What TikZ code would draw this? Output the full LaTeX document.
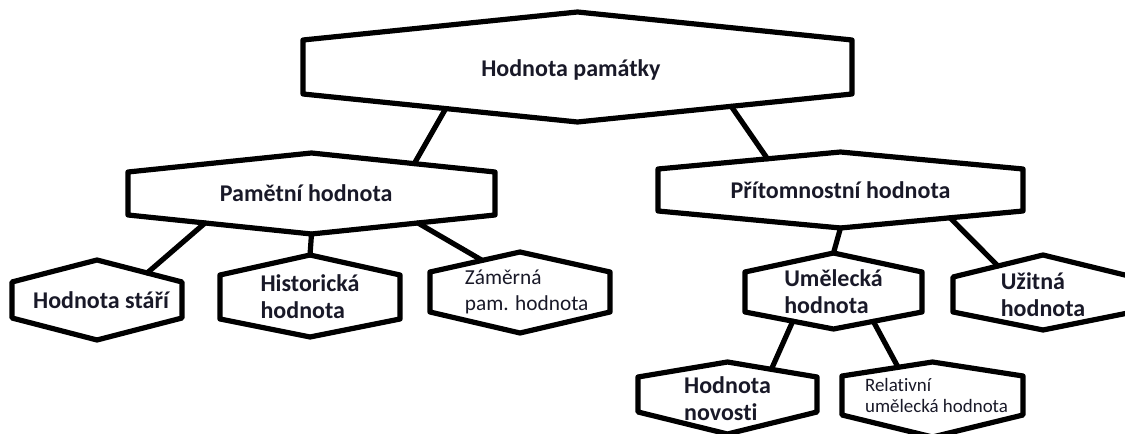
\documentclass[tikz,border=0pt]{standalone}
\usepackage{fontspec}
\setmainfont[Ligatures={NoCommon}]{Carlito}
\usetikzlibrary{calc}
\definecolor{ink}{RGB}{25,25,40}
\begin{document}
\begin{tikzpicture}[x=0.75pt,y=-0.75pt,line join=round,line cap=round,
	boxline/.style={line width=3.9pt,fill=white},
	boxtext/.style={inner sep=0pt,align=left,text=ink,font=\bfseries\fontsize{18}{20.3}\selectfont},
	zamtext/.style={font=\fontsize{16}{19.5}\selectfont},
	reltext/.style={font=\fontsize{14.2}{15.8}\selectfont},
	link/.style={line width=3.9pt}]
	% Definice tvaru: styl, jméno, střed, půlšířka, půlstrana, horní a dolní hrot, text
	\def\hexbox#1#2#3#4#5#6#7#8{
		\path (#3) ++(-#4,-#5) coordinate (#2-nw)
			(#3) ++(0,-#5-#6) coordinate (#2-n)
			(#3) ++(#4,-#5) coordinate (#2-ne)
			(#3) ++(#4,#5) coordinate (#2-se)
			(#3) ++(0,#5+#7) coordinate (#2-s)
			(#3) ++(-#4,#5) coordinate (#2-sw);
		\draw [boxline] (#2-nw)--(#2-n)--(#2-ne)--(#2-se)--(#2-s)--(#2-sw)--cycle;
		\node [boxtext,#1] (#2) at (#3) {#8};
	}
	\useasboundingbox (0,0) rectangle (1125,434);
	\clip (0,0) rectangle (1125,434);
	\hexbox{xshift=-5pt,yshift=-2pt}{top}{577.5,67}{274.5}{27}{28}{28}{Hodnota památky}
	\hexbox{xshift=-4pt}{pam}{311.5,193.5}{183.5}{21.5}{19}{19}{Pamětní hodnota}
	\hexbox{}{prit}{840.5,190}{182.5}{21}{17}{17}{Přítomnostní hodnota}
	\hexbox{xshift=3pt}{stari}{97,300}{85}{18}{22}{22}{Hodnota stáří}
	\hexbox{}{hist}{310,297}{90}{22}{20}{18}{Historická\\hodnota}
	\hexbox{zamtext,xshift=5pt}{zam}{520,292}{90}{20}{20}{21}{Záměrná\\pam. hodnota}
	\hexbox{}{umel}{833.5,292}{88.5}{20}{19}{17}{Umělecká\\hodnota}
	\hexbox{}{uzit}{1043,294.5}{90}{17.5}{22}{18}{Užitná\\hodnota}
	\hexbox{yshift=-3pt}{nov}{727.5,394.5}{89.5}{17.5}{15}{22}{Hodnota\\novosti}
	\hexbox{reltext,xshift=3pt}{rel}{932.5,395.5}{90.5}{19.5}{14}{22}{Relativní\\umělecká hodnota}
	% Spojnice
	\draw [link] ($(top-s)!0.48!(top-sw)$)--($(pam-n)!0.56!(pam-ne)$);
	\draw [link] ($(top-s)!0.56!(top-se)$)--($(prit-n)!0.4!(prit-nw)$);
	\draw [link] ($(pam-s)!0.58!(pam-sw)$)--($(stari-n)!0.59!(stari-ne)$);
	\draw [link] (pam-s)--(hist-n);
	\draw [link] ($(pam-s)!0.58!(pam-se)$)--($(zam-n)!0.42!(zam-nw)$);
	\draw [link] (prit-s)--(umel-n);
	\draw [link] ($(prit-s)!0.6!(prit-se)$)--($(uzit-n)!0.5!(uzit-nw)$);
	\draw [link] ($(umel-s)!0.46!(umel-sw)$)--($(nov-n)!0.49!(nov-ne)$);
	\draw [link] ($(umel-s)!0.45!(umel-se)$)--($(rel-n)!0.38!(rel-nw)$);
\end{tikzpicture}
\end{document}
